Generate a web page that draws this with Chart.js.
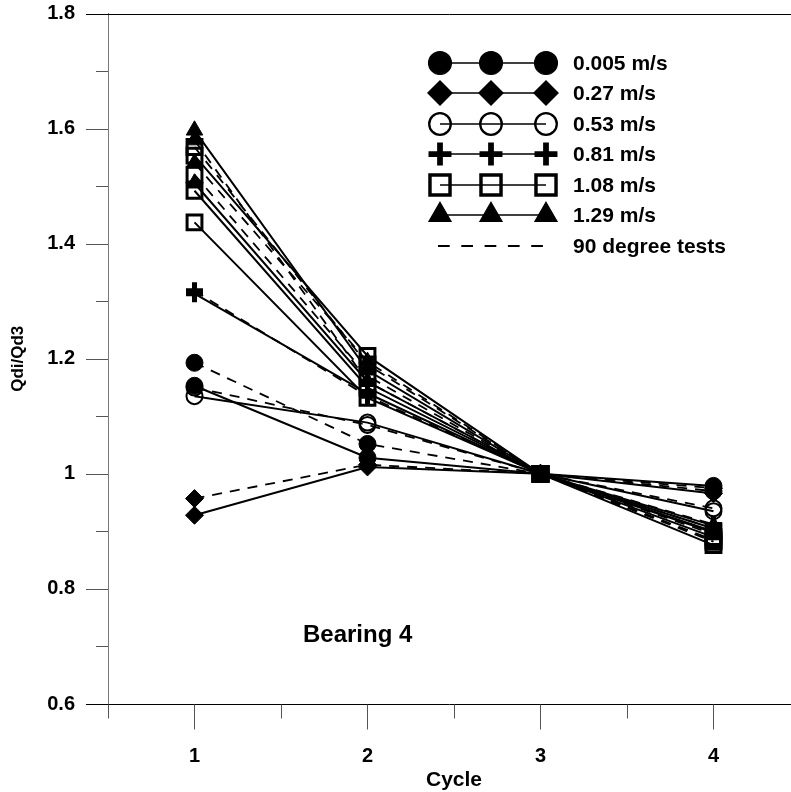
<!DOCTYPE html>
<html>
<head>
<meta charset="utf-8">
<script src="https://cdn.jsdelivr.net/npm/chart.js@4.4.1/dist/chart.umd.min.js"></script>
<style>
  html, body { margin: 0; padding: 0; background: #fff; }
  #wrap { width: 791px; height: 792px; }
</style>
</head>
<body>
<div id="wrap"><canvas id="mainChart" width="791" height="792"></canvas></div>
<script>
// === DATA ===
const cycles = [1, 2, 3, 4];
const yTicks = [0.6, 0.8, 1.0, 1.2, 1.4, 1.6, 1.8];
const xTicks = [1, 2, 3, 4];

// 0.005 m/s
const v0005Solid = [1.153, 1.028, 1, 0.979];
const v0005Dash  = [1.193, 1.052, 1, 0.970];
// 0.27 m/s
const v027Solid  = [0.928, 1.012, 1, 0.966];
const v027Dash   = [0.957, 1.016, 1, 0.975];
// 0.53 m/s
const v053Solid  = [1.135, 1.089, 1, 0.935];
const v053Dash   = [1.150, 1.085, 1, 0.940];
// 0.81 m/s
const v081Solid  = [1.313, 1.140, 1, 0.905];
const v081Dash   = [1.318, 1.135, 1, 0.912];
// 1.08 m/s
const v108SolidA = [1.437, 1.132, 1, 0.900];
const v108SolidB = [1.492, 1.150, 1, 0.890];
const v108SolidC = [1.553, 1.205, 1, 0.876];
const v108DashA  = [1.520, 1.170, 1, 0.885];
const v108DashB  = [1.568, 1.190, 1, 0.882];
// 1.29 m/s
const v129SolidA = [1.597, 1.180, 1, 0.898];
const v129SolidB = [1.505, 1.160, 1, 0.910];
const v129DashA  = [1.580, 1.160, 1, 0.905];
const v129DashB  = [1.540, 1.195, 1, 0.895];

const legendLabels = ['0.005 m/s', '0.27 m/s', '0.53 m/s', '0.81 m/s', '1.08 m/s', '1.29 m/s', '90 degree tests'];

// marker look per velocity
const markers = {
  fcircle:  { pointStyle: 'circle',   radius: 8.5,  fill: true,  bw: 1 },
  diamond:  { pointStyle: 'rectRot',  radius: 9,    fill: true,  bw: 1 },
  ocircle:  { pointStyle: 'circle',   radius: 8,    fill: false, bw: 2 },
  plus:     { pointStyle: 'cross',    radius: 8.5,  fill: false, bw: 5 },
  square:   { pointStyle: 'rect',     radius: 10.5, fill: false, bw: 3 },
  triangle: { pointStyle: 'triangle', radius: 9.5,  fill: true,  bw: 1 }
};

function makeSet(values, mk, dashed) {
  const m = markers[mk];
  return {
    data: cycles.map((c, i) => ({ x: c, y: values[i] })),
    borderColor: '#000',
    borderWidth: dashed ? 1.8 : 2,
    borderDash: dashed ? [10, 8] : [],
    pointStyle: m.pointStyle,
    pointRadius: m.radius,
    pointBorderWidth: m.bw,
    pointBorderColor: '#000',
    pointBackgroundColor: m.fill ? '#000' : 'rgba(0,0,0,0)',
    tension: 0,
    fill: false
  };
}

const datasets = [
  makeSet(v0005Solid, 'fcircle', false),
  makeSet(v0005Dash, 'fcircle', true),
  makeSet(v027Solid, 'diamond', false),
  makeSet(v027Dash, 'diamond', true),
  makeSet(v053Solid, 'ocircle', false),
  makeSet(v053Dash, 'ocircle', true),
  makeSet(v081Solid, 'plus', false),
  makeSet(v081Dash, 'plus', true),
  makeSet(v108SolidA, 'square', false),
  makeSet(v108SolidB, 'square', false),
  makeSet(v108SolidC, 'square', false),
  makeSet(v108DashA, 'square', true),
  makeSet(v108DashB, 'square', true),
  makeSet(v129SolidA, 'triangle', false),
  makeSet(v129SolidB, 'triangle', false),
  makeSet(v129DashA, 'triangle', true),
  makeSet(v129DashB, 'triangle', true)
];

const FONT = '"Liberation Sans", Arial, sans-serif';

function drawMarker(ctx, mk, x, y, scale) {
  const m = markers[mk];
  ctx.save();
  ctx.strokeStyle = '#000';
  ctx.fillStyle = m.fill ? '#000' : 'rgba(0,0,0,0)';
  ctx.lineWidth = m.bw * (scale > 1.2 ? 1.15 : 1);
  ctx.setLineDash([]);
  Chart.helpers.drawPoint(ctx, { pointStyle: m.pointStyle, radius: m.radius * scale, borderWidth: ctx.lineWidth, rotation: 0 }, x, y);
  ctx.restore();
}

// scale paddings would shrink the plot; the frame is fixed by hand
function noPad(s) {
  s.paddingTop = 0; s.paddingBottom = 0; s.paddingLeft = 0; s.paddingRight = 0;
}

// ticks, frame, legend and labels drawn on top of the scales
const decorPlugin = {
  id: 'decor',
  afterDraw(chart) {
    const ctx = chart.ctx;
    const xs = chart.scales.x, ys = chart.scales.y;
    const area = chart.chartArea;
    ctx.save();
    // y ticks (major every 0.2, minor in between)
    for (let k = 6; k <= 18; k++) {
      const v = k / 10;
      const py = Math.round(ys.getPixelForValue(v)) + 0.5;
      const major = k % 2 === 0;
      const edge = (k === 6 || k === 18);
      ctx.strokeStyle = edge ? '#000' : '#555';
      ctx.lineWidth = 1;
      ctx.beginPath();
      ctx.moveTo(area.left - (major ? 22 : 12), py);
      ctx.lineTo(area.left, py);
      ctx.stroke();
    }
    // top frame line
    const topY = Math.round(ys.getPixelForValue(1.8)) + 0.5;
    ctx.strokeStyle = '#000';
    ctx.beginPath();
    ctx.moveTo(area.left, topY);
    ctx.lineTo(chart.width, topY);
    ctx.stroke();
    // bottom axis line
    const botY = Math.round(ys.getPixelForValue(0.6)) + 0.5;
    ctx.beginPath();
    ctx.moveTo(area.left, botY);
    ctx.lineTo(chart.width, botY);
    ctx.stroke();
    // x ticks (major at cycles, minor at halves)
    ctx.strokeStyle = '#555';
    for (let k = 1; k <= 8; k++) {
      const v = k / 2;
      const px = Math.round(xs.getPixelForValue(v)) + 0.5;
      const major = k % 2 === 0;
      ctx.beginPath();
      ctx.moveTo(px, botY);
      ctx.lineTo(px, botY + (major ? 25 : 14));
      ctx.stroke();
    }

    // x axis title, centred between cycle 2 and 3 like the original
    ctx.fillStyle = '#000';
    ctx.font = 'bold 21px ' + FONT;
    ctx.textAlign = 'center';
    ctx.textBaseline = 'middle';
    ctx.fillText('Cycle', xs.getPixelForValue(2.5), 780);

    // legend
    const rows = [63, 93, 124, 154, 185, 215, 246];
    const mks = ['fcircle', 'diamond', 'ocircle', 'plus', 'square', 'triangle'];
    const lx = [440, 491, 546];
    ctx.font = 'bold 21px ' + FONT;
    ctx.textBaseline = 'middle';
    ctx.textAlign = 'left';
    rows.forEach((ry, i) => {
      ctx.strokeStyle = '#000';
      ctx.lineWidth = 1.5;
      if (i < 6) {
        ctx.setLineDash([]);
        ctx.beginPath();
        ctx.moveTo(lx[0], ry);
        ctx.lineTo(lx[2], ry);
        ctx.stroke();
        lx.forEach(px => drawMarker(ctx, mks[i], px, ry, 1.35));
      } else {
        ctx.lineWidth = 2;
        ctx.setLineDash([11.7, 11.6]);
        ctx.beginPath();
        ctx.moveTo(438, ry);
        ctx.lineTo(543, ry);
        ctx.stroke();
        ctx.setLineDash([]);
      }
      ctx.fillStyle = '#000';
      ctx.fillText(legendLabels[i], 573, ry + 1);
    });

    // in-plot label
    ctx.font = 'bold 24px ' + FONT;
    ctx.fillText('Bearing 4', xs.getPixelForValue(1.627), ys.getPixelForValue(0.72));
    ctx.restore();
  }
};

const ctx = document.getElementById('mainChart').getContext('2d');
const chart = new Chart(ctx, {
  type: 'line',
  data: { datasets: datasets },
  plugins: [decorPlugin],
  options: {
    responsive: false,
    animation: false,
    devicePixelRatio: 1,
    layout: { padding: { top: 13, right: 0, left: 0, bottom: 0 } },
    plugins: { legend: { display: false }, tooltip: { enabled: false } },
    scales: {
      x: {
        type: 'linear',
        min: 0.5,
        max: 4.37,
        afterBuildTicks: s => { s.ticks = xTicks.map(v => ({ value: v })); },
        afterFit: s => { s.height = 88; noPad(s); },
        grid: { display: true, drawOnChartArea: false, drawTicks: false },
        border: { display: false },
        ticks: {
          padding: 40,
          color: '#000',
          font: { family: FONT, size: 20, weight: 'bold' },
          callback: v => String(v)
        },
        title: { display: false }
      },
      y: {
        type: 'linear',
        min: 0.6,
        max: 1.8,
        afterBuildTicks: s => { s.ticks = yTicks.map(v => ({ value: v })); },
        afterFit: s => { s.width = 108; noPad(s); },
        grid: { display: true, drawOnChartArea: false, drawTicks: false },
        border: { display: true, color: '#777', width: 1 },
        ticks: {
          padding: 33,
          color: '#000',
          font: { family: FONT, size: 20, weight: 'bold' },
          callback: v => String(Math.round(v * 10) / 10)
        },
        title: {
          display: true,
          text: 'Qdi/Qd3',
          color: '#000',
          font: { family: FONT, size: 17, weight: 'bold' },
          padding: { top: 8, bottom: 0 }
        }
      }
    }
  }
});
</script>
</body>
</html>
